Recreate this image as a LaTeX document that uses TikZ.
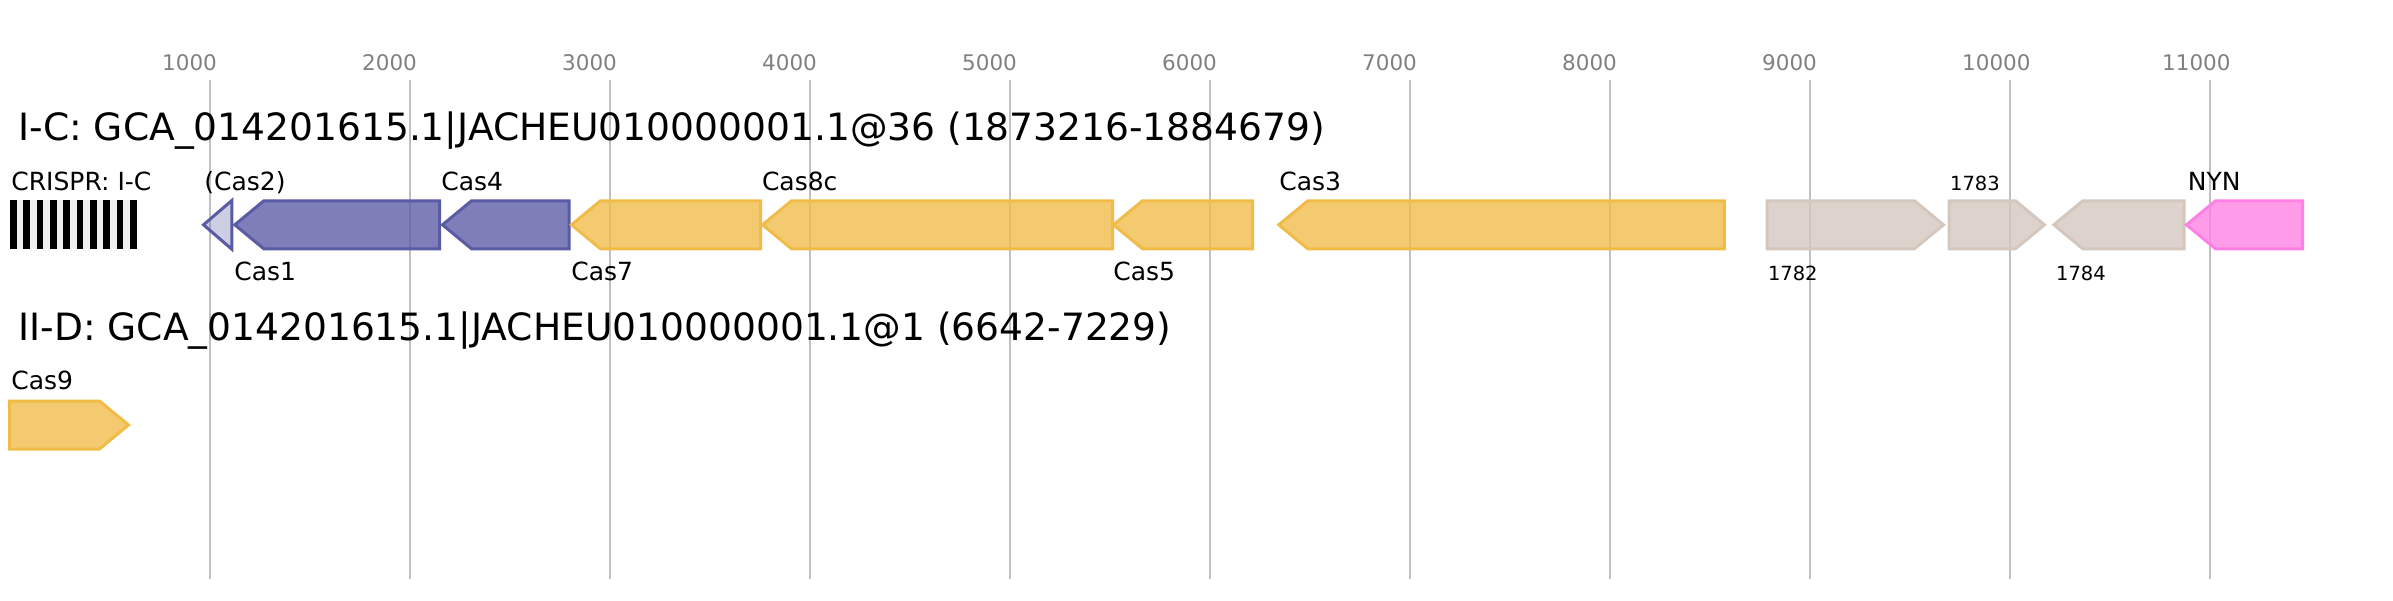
\documentclass[tikz,border=0pt]{standalone}
\usepackage{fontspec}
\setmainfont{DejaVu Sans}
\usepackage{tikz}
\usetikzlibrary{positioning}
\definecolor{gridgray}{HTML}{C0C0C0}
\definecolor{tickgray}{HTML}{808080}
\definecolor{casblue}{HTML}{5A5BA5}
\definecolor{casyellow}{HTML}{F0BB47}
\definecolor{casbeige}{HTML}{D4C7BE}
\definecolor{caspink}{HTML}{FF80E4}
\definecolor{arraygray}{HTML}{EFEFEF}
\tikzset{
    grid line/.style={line width=1pt, color=gridgray},
    tick label/.style={anchor=base west, inner sep=0pt, text=tickgray, font=\fontsize{10.75}{12}\selectfont},
    gene label/.style={anchor=base west, inner sep=0pt, font=\fontsize{12.5}{14}\selectfont},
    small label/.style={anchor=base west, inner sep=0pt, font=\fontsize{9.75}{11}\selectfont},
    title label/.style={anchor=base west, inner sep=0pt, font=\fontsize{18.8}{22}\selectfont},
    gene/.style={line width=1.5pt, draw=#1, fill=#1, fill opacity=0.78, line join=miter},
    adaptation/.style={gene=casblue},
    interference/.style={gene=casyellow},
    other gene/.style={gene=casbeige},
    nuclease/.style={gene=caspink},
    repeat bar/.style={fill=black},
}
% #1 style, #2 row centre, #3 tip, #4 flat end
\newcommand{\geneleft}[4]{\draw[#1] (#4,#2-24) -- (#3+29,#2-24) -- (#3,#2) -- (#3+29,#2+24) -- (#4,#2+24) -- cycle;}
\newcommand{\generight}[4]{\draw[#1] (#3,#2-24) -- (#4-29,#2-24) -- (#4,#2) -- (#4-29,#2+24) -- (#3,#2+24) -- cycle;}

\begin{document}
\begin{tikzpicture}[x=0.5pt,y=-0.5pt]
    \useasboundingbox (0,0) rectangle (2393,600);

    \foreach \k in {1,...,11} {
        \draw[grid line] ({9.8+200*\k},80) -- ({9.8+200*\k},579);
        \node[tick label] (tick\k) at ({200*\k-38.2},70) {\k000};
    }

    \node[title label] (titleIC) at (18,140) {I-C: GCA\_014201615.1|JACHEU010000001.1@36 (1873216-1884679)};
    \node[title label] (titleIID) at (18,340.7) {II-D: GCA\_014201615.1|JACHEU010000001.1@1 (6642-7229)};

    % CRISPR array
    \fill[arraygray] (10,200) rectangle (136,249);
    \foreach \i in {0,...,9}
        \fill[repeat bar] ({10+13.33*\i},200) rectangle +(6.7,49);
    \node[gene label] (lcrispr) at (11,190) {CRISPR: I-C};

    % I-C locus
    \draw[adaptation, fill opacity=0.3] (231.8,200.5) -- (203.5,224.8) -- (231.8,249.2) -- cycle;
    \geneleft{adaptation}{224.8}{234.8}{439.5}
    \geneleft{adaptation}{224.8}{442.5}{569}
    \geneleft{interference}{224.8}{571.5}{760.5}
    \geneleft{interference}{224.8}{762.5}{1112.5}
    \geneleft{interference}{224.8}{1113.5}{1252.5}
    \geneleft{interference}{224.8}{1278.8}{1724.3}
    \generight{other gene}{224.8}{1767}{1943.5}
    \generight{other gene}{224.8}{1949}{2044.5}
    \geneleft{other gene}{224.8}{2053.8}{2184}
    \geneleft{nuclease}{224.8}{2186.5}{2302.5}

    \node[gene label] (lcas2) at (204,190) {(Cas2)};
    \node[gene label] (lcas1) at (234,280) {Cas1};
    \node[gene label] (lcas4) at (441,190) {Cas4};
    \node[gene label] (lcas7) at (571,280) {Cas7};
    \node[gene label] (lcas8c) at (761.6,190) {Cas8c};
    \node[gene label] (lcas5) at (1113,280) {Cas5};
    \node[gene label] (lcas3) at (1279,190) {Cas3};
    \node[small label] (l1782) at (1767.6,280) {1782};
    \node[small label] (l1783) at (1949.7,190) {1783};
    \node[small label] (l1784) at (2055.7,280) {1784};
    \node[gene label] (lnyn) at (2187.4,190) {NYN};

    % II-D locus
    \generight{interference}{425}{9.5}{128.5}
    \node[gene label] (lcas9) at (11,389) {Cas9};
\end{tikzpicture}
\end{document}
